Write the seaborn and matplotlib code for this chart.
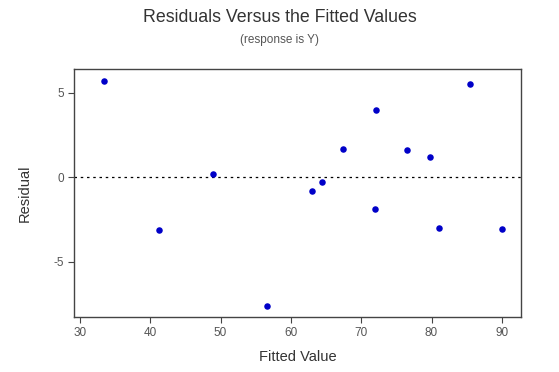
import matplotlib
matplotlib.use("Agg")
import matplotlib.pyplot as plt
import seaborn as sns
import pandas as pd

fitted = [33.41, 41.19, 48.92, 56.65, 62.96, 64.38, 67.37, 72.10, 71.96, 76.47, 79.83, 81.07, 85.52, 90.07]
residual = [5.71, -3.11, 0.19, -7.62, -0.79, -0.28, 1.67, 3.98, -1.89, 1.61, 1.22, -2.98, 5.53, -3.05]
xticks = [30, 40, 50, 60, 70, 80, 90]
yticks = [-5, 0, 5]

df = pd.DataFrame({"Fitted Value": fitted, "Residual": residual})

sns.set_style("white")
plt.rcParams["font.family"] = ["Arial", "Liberation Sans", "DejaVu Sans"]
plt.rcParams["axes.unicode_minus"] = False

fig = plt.figure(figsize=(5.59, 3.72), dpi=100)
ax = fig.add_axes([74/559, 1-317/372, (521-74)/559, (317-69)/372])

sns.scatterplot(data=df, x="Fitted Value", y="Residual", ax=ax, color="#0000c8",
                s=22, marker="o", edgecolor="#0000c8", linewidth=0, zorder=3)
ax.axhline(0, color="black", linestyle=(0, (2, 3)), linewidth=0.9, zorder=2)

ax.set_xlim(29.15, 92.73)
ax.set_ylim(-8.25, 6.40)
ax.set_xticks(xticks)
ax.set_yticks(yticks)
ax.tick_params(axis="both", direction="out", length=4, width=0.8, color="#444444",
               labelsize=8.5, labelcolor="#555555", pad=3, bottom=True, left=True)
for sp in ax.spines.values():
    sp.set_color("#444444")
    sp.set_linewidth(1.0)

ax.set_xlabel("Fitted Value", fontsize=10.5, color="#333333", labelpad=8)
ax.set_ylabel("Residual", fontsize=10.5, color="#333333", labelpad=16)

fig.text(0.5, 1-17/372, "Residuals Versus the Fitted Values", ha="center", va="center",
         fontsize=12.8, color="#333333")
fig.text(0.5, 1-40/372, "(response is Y)", ha="center", va="center",
         fontsize=8.5, color="#555555")

fig.savefig("out.png", dpi=100, facecolor="white")
